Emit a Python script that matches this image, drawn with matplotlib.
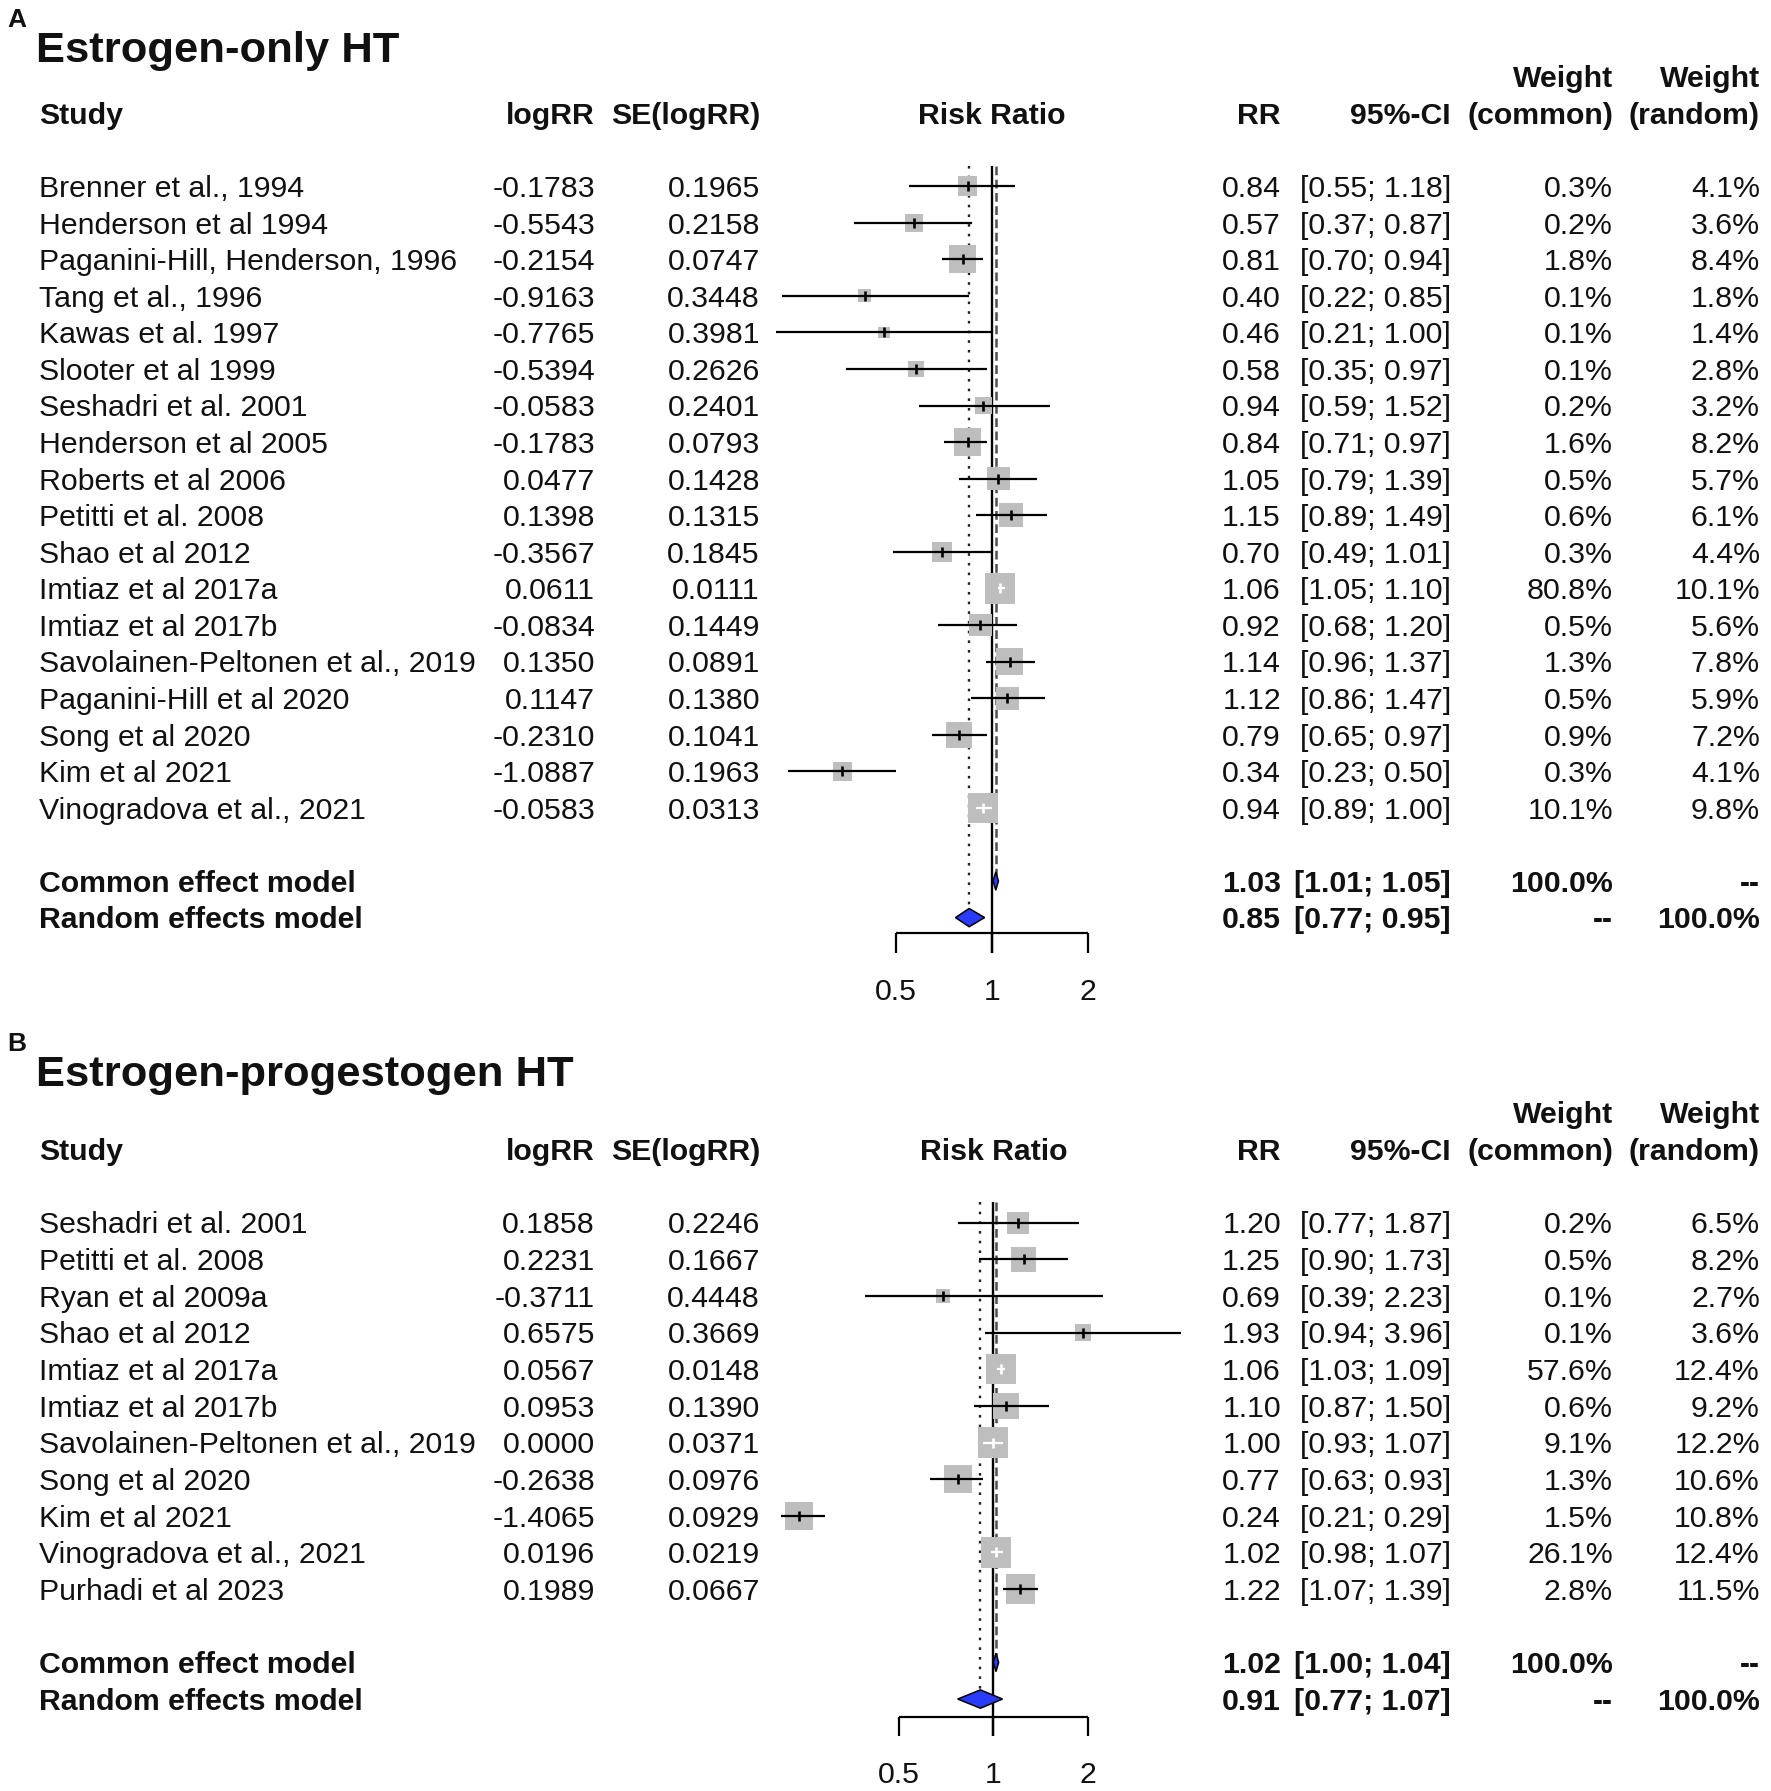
import numpy as np
import matplotlib
matplotlib.use("Agg")
import matplotlib.pyplot as plt
from matplotlib.patches import Polygon

# ---------------- data ----------------
title_a = "Estrogen-only HT"
studies_a = ["Brenner et al., 1994", "Henderson et al 1994", "Paganini-Hill, Henderson, 1996",
             "Tang et al., 1996", "Kawas et al. 1997", "Slooter et al 1999", "Seshadri et al. 2001",
             "Henderson et al 2005", "Roberts et al 2006", "Petitti et al. 2008", "Shao et al 2012",
             "Imtiaz et al 2017a", "Imtiaz et al 2017b", "Savolainen-Peltonen et al., 2019",
             "Paganini-Hill et al 2020", "Song et al 2020", "Kim et al 2021", "Vinogradova et al., 2021"]
logrr_a = [-0.1783, -0.5543, -0.2154, -0.9163, -0.7765, -0.5394, -0.0583, -0.1783, 0.0477, 0.1398,
           -0.3567, 0.0611, -0.0834, 0.1350, 0.1147, -0.2310, -1.0887, -0.0583]
se_a = [0.1965, 0.2158, 0.0747, 0.3448, 0.3981, 0.2626, 0.2401, 0.0793, 0.1428, 0.1315,
        0.1845, 0.0111, 0.1449, 0.0891, 0.1380, 0.1041, 0.1963, 0.0313]
rr_a = [0.84, 0.57, 0.81, 0.40, 0.46, 0.58, 0.94, 0.84, 1.05, 1.15, 0.70, 1.06, 0.92, 1.14, 1.12, 0.79, 0.34, 0.94]
lo_a = [0.55, 0.37, 0.70, 0.22, 0.21, 0.35, 0.59, 0.71, 0.79, 0.89, 0.49, 1.05, 0.68, 0.96, 0.86, 0.65, 0.23, 0.89]
hi_a = [1.18, 0.87, 0.94, 0.85, 1.00, 0.97, 1.52, 0.97, 1.39, 1.49, 1.01, 1.10, 1.20, 1.37, 1.47, 0.97, 0.50, 1.00]
wcom_a = [0.3, 0.2, 1.8, 0.1, 0.1, 0.1, 0.2, 1.6, 0.5, 0.6, 0.3, 80.8, 0.5, 1.3, 0.5, 0.9, 0.3, 10.1]
wran_a = [4.1, 3.6, 8.4, 1.8, 1.4, 2.8, 3.2, 8.2, 5.7, 6.1, 4.4, 10.1, 5.6, 7.8, 5.9, 7.2, 4.1, 9.8]
common_a = [1.03, 1.01, 1.05]
random_a = [0.85, 0.77, 0.95]

title_b = "Estrogen-progestogen HT"
studies_b = ["Seshadri et al. 2001", "Petitti et al. 2008", "Ryan et al 2009a", "Shao et al 2012",
             "Imtiaz et al 2017a", "Imtiaz et al 2017b", "Savolainen-Peltonen et al., 2019",
             "Song et al 2020", "Kim et al 2021", "Vinogradova et al., 2021", "Purhadi et al 2023"]
logrr_b = [0.1858, 0.2231, -0.3711, 0.6575, 0.0567, 0.0953, 0.0000, -0.2638, -1.4065, 0.0196, 0.1989]
se_b = [0.2246, 0.1667, 0.4448, 0.3669, 0.0148, 0.1390, 0.0371, 0.0976, 0.0929, 0.0219, 0.0667]
rr_b = [1.20, 1.25, 0.69, 1.93, 1.06, 1.10, 1.00, 0.77, 0.24, 1.02, 1.22]
lo_b = [0.77, 0.90, 0.39, 0.94, 1.03, 0.87, 0.93, 0.63, 0.21, 0.98, 1.07]
hi_b = [1.87, 1.73, 2.23, 3.96, 1.09, 1.50, 1.07, 0.93, 0.29, 1.07, 1.39]
wcom_b = [0.2, 0.5, 0.1, 0.1, 57.6, 0.6, 9.1, 1.3, 1.5, 26.1, 2.8]
wran_b = [6.5, 8.2, 2.7, 3.6, 12.4, 9.2, 12.2, 10.6, 10.8, 12.4, 11.5]
common_b = [1.02, 1.00, 1.04]
random_b = [0.91, 0.77, 1.07]

axis_ticks = [0.5, 1, 2]
tick_labels = ["0.5", "1", "2"]

# ---------------- figure ----------------
W, H = 1771, 1791
DPI = 100
plt.rcParams['font.family'] = ['Liberation Sans', 'DejaVu Sans']
fig = plt.figure(figsize=(W / DPI, H / DPI), dpi=DPI)
fig.patch.set_facecolor('white')

FS = 21.8      # body font size
TFS = 31.3     # title size
GRAY = '#bebebe'
BLUE = '#2a3cfb'
TXT = '#111111'


def panel(letter, title, studies, logrr, se, rr, lo, hi, wcom, wran, common, random_,
          top_px, bot_px, y0, dy, x1, k, dx, r_title, r_letter, r_axis, r_tickbot, r_lab):
    r_top = (top_px - y0) / dy
    r_bot = (bot_px - y0) / dy
    tax = fig.add_axes([0, 1 - bot_px / H, 1, (bot_px - top_px) / H])
    tax.set_xlim(0, W)
    tax.set_ylim(r_bot, r_top)
    tax.axis('off')
    tax.set_facecolor('none')

    fl, fr = 650, 1330
    fax = fig.add_axes([fl / W, 1 - bot_px / H, (fr - fl) / W, (bot_px - top_px) / H])
    fax.set_xscale('log', base=2)
    fax.set_xlim(2 ** ((fl - x1) / k), 2 ** ((fr - x1) / k))
    fax.set_ylim(r_bot, r_top)
    fax.axis('off')
    fax.set_facecolor('none')

    def base(size):
        # baseline offset (rows) so that the cap-height centre sits on the row
        return 0.716 * size * DPI / 72 / 2 / dy

    def txt(x, r, s, ha='left', bold=False, size=FS, ax=tax):
        ax.text(x, r + base(size), s, ha=ha, va='baseline', fontsize=size,
                fontweight='bold' if bold else 'normal', color=TXT)

    # columns (px)
    c_study = 39 + dx
    c_log = 595 + dx
    c_se = 760 + dx
    c_rr = 1281 + dx
    c_ci = 1451 + dx
    c_wc = 1613 + dx
    c_wr = 1760 + dx

    # letter & title
    txt(7, r_letter, letter, bold=True, size=19)
    txt(36, r_title, title, bold=True, size=TFS)

    # headers
    txt(c_study, -2, "Study", bold=True)
    txt(c_log, -2, "logRR", ha='right', bold=True)
    txt(c_se, -2, "SE(logRR)", ha='right', bold=True)
    txt(1, -2, "Risk Ratio", ha='center', bold=True, ax=fax)
    txt(c_rr, -2, "RR", ha='right', bold=True)
    txt(c_ci, -2, "95%-CI", ha='right', bold=True)
    txt(c_wc, -3, "Weight", ha='right', bold=True)
    txt(c_wc, -2, "(common)", ha='right', bold=True)
    txt(c_wr, -3, "Weight", ha='right', bold=True)
    txt(c_wr, -2, "(random)", ha='right', bold=True)

    n = len(studies)
    rows = np.arange(n)
    for i in range(n):
        txt(c_study, i, studies[i])
        txt(c_log, i, f"{logrr[i]:.4f}", ha='right')
        txt(c_se, i, f"{se[i]:.4f}", ha='right')
        txt(c_rr, i, f"{rr[i]:.2f}", ha='right')
        txt(c_ci, i, f"[{lo[i]:.2f}; {hi[i]:.2f}]", ha='right')
        txt(c_wc, i, f"{wcom[i]:.1f}%", ha='right')
        txt(c_wr, i, f"{wran[i]:.1f}%", ha='right')

    r_com = n + 1
    r_ran = n + 2
    txt(c_study, r_com, "Common effect model", bold=True)
    txt(c_study, r_ran, "Random effects model", bold=True)
    txt(c_rr, r_com, f"{common[0]:.2f}", ha='right', bold=True)
    txt(c_ci, r_com, f"[{common[1]:.2f}; {common[2]:.2f}]", ha='right', bold=True)
    txt(c_wc, r_com, "100.0%", ha='right', bold=True)
    txt(c_wr, r_com, "--", ha='right', bold=True)
    txt(c_rr, r_ran, f"{random_[0]:.2f}", ha='right', bold=True)
    txt(c_ci, r_ran, f"[{random_[1]:.2f}; {random_[2]:.2f}]", ha='right', bold=True)
    txt(c_wc, r_ran, "--", ha='right', bold=True)
    txt(c_wr, r_ran, "100.0%", ha='right', bold=True)

    # squares (area proportional to random-effects weight)
    wr = np.array(wran)
    side_px = 30.5 * np.sqrt(wr / wr.max())
    rr_ = np.array(rr); lo_ = np.array(lo); hi_ = np.array(hi)
    fax.scatter(rr_, rows, marker='s', s=(side_px * 72 / DPI) ** 2, color=GRAY,
                edgecolors='none', zorder=3)
    half = side_px / 2
    inside = (k * np.log2(rr_ / lo_) < half) & (k * np.log2(hi_ / rr_) < half)
    cols = ['white' if f else 'black' for f in inside]

    # reference lines
    r_start = -0.55
    fax.plot([1, 1], [r_start, r_tickbot], color='black', lw=1.7, zorder=2,
             solid_capstyle='butt')
    fax.plot([common[0]] * 2, [r_start, r_com], color='#505050', lw=1.8,
             ls=(0, (3.5, 1.8)), zorder=2)
    fax.plot([random_[0]] * 2, [r_start, r_ran], color='#222222', lw=1.7,
             ls=(0, (1.1, 3.0)), zorder=2)

    # CI lines & estimate ticks
    fax.hlines(rows, lo_, hi_, colors=cols, lw=1.6, zorder=4)
    fax.scatter(rr_, rows, marker='|', s=(10 * 72 / DPI) ** 2, c=cols,
                linewidths=1.9, zorder=5)

    # diamonds
    h = 0.25
    for (est, l, u), r in ((common, r_com), (random_, r_ran)):
        fax.add_patch(Polygon([(l, r), (est, r - h), (u, r), (est, r + h)], closed=True,
                              facecolor=BLUE, edgecolor='black', lw=1.1, zorder=6))

    # x axis
    fax.plot([axis_ticks[0], axis_ticks[-1]], [r_axis, r_axis], color='black', lw=1.6,
             solid_capstyle='butt')
    for t, lab in zip(axis_ticks, tick_labels):
        fax.plot([t, t], [r_axis, r_tickbot], color='black', lw=1.6, solid_capstyle='butt')
        txt(t, r_lab, lab, ha='center', ax=fax)


panel("A", title_a, studies_a, logrr_a, se_a, rr_a, lo_a, hi_a, wcom_a, wran_a, common_a, random_a,
      top_px=0, bot_px=1010, y0=186.2, dy=36.57, x1=991.7, k=96.0, dx=0,
      r_title=-3.81, r_letter=-4.62, r_axis=20.43, r_tickbot=20.96, r_lab=21.95)

panel("B", title_b, studies_b, logrr_b, se_b, rr_b, lo_b, hi_b, wcom_b, wran_b, common_b, random_b,
      top_px=1010, bot_px=1791, y0=1222.6, dy=36.65, x1=993.3, k=94.5, dx=0,
      r_title=-4.15, r_letter=-4.95, r_axis=13.50, r_tickbot=14.01, r_lab=15.0)

fig.savefig("out.png", dpi=DPI, facecolor='white')
